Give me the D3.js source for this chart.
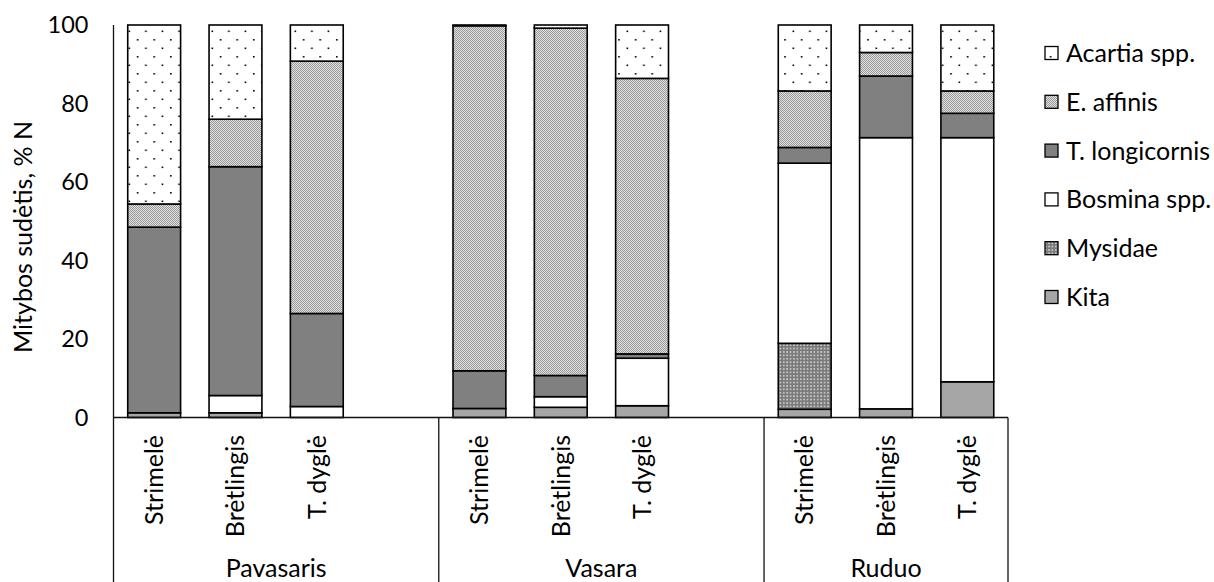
<!DOCTYPE html>
<html>
<head>
<meta charset="utf-8">
<script src="https://cdn.jsdelivr.net/npm/d3@7"></script>
<style>
  body { margin: 0; background: #fff; }
  svg text { font-family: Lato, "Open Sans", sans-serif; fill: #000; }
</style>
</head>
<body>
<svg id="chart" width="1214" height="582"></svg>
<script>
// ---- data ----
const seasons = ["Pavasaris", "Vasara", "Ruduo"];
const fish = ["Strimelė", "Brėtlingis", "T. dyglė"];
// stack order bottom -> top
const seriesNames = ["Kita", "Mysidae", "Bosmina spp.", "T. longicornis", "E. affinis", "Acartia spp."];
// order: Pavasaris (Strimelė, Brėtlingis, T. dyglė), Vasara (...), Ruduo (...)
const kita         = [1.2, 1.2, 0.0, 2.3, 2.6, 3.0, 2.1, 2.2, 9.1];
const mysidae      = [0.0, 0.0, 0.0, 0.0, 0.0, 0.0, 16.8, 0.0, 0.0];
const bosmina      = [0.0, 4.4, 2.8, 0.0, 2.7, 12.1, 45.9, 69.1, 62.2];
const tLongicornis = [47.3, 58.3, 23.7, 9.6, 5.4, 1.1, 4.0, 15.7, 6.2];
const eAffinis     = [5.9, 12.1, 64.3, 87.9, 88.5, 70.2, 14.4, 6.0, 5.7];
const acartia      = [45.6, 24.0, 9.2, 0.2, 0.8, 13.6, 16.8, 7.0, 16.8];
const yTicks = [0, 20, 40, 60, 80, 100];
const legendOrder = ["Acartia spp.", "E. affinis", "T. longicornis", "Bosmina spp.", "Mysidae", "Kita"];

const seriesValues = {
  "Kita": kita, "Mysidae": mysidae, "Bosmina spp.": bosmina,
  "T. longicornis": tLongicornis, "E. affinis": eAffinis, "Acartia spp.": acartia
};

// build rows
const rows = [];
seasons.forEach((s, si) => fish.forEach((f, fi) => {
  const i = si * fish.length + fi;
  const r = { key: s + "|" + f, season: s, fish: f };
  seriesNames.forEach(n => r[n] = seriesValues[n][i]);
  rows.push(r);
}));
// slot domain with spacer after first two seasons
const slots = [];
seasons.forEach((s, si) => {
  fish.forEach(f => slots.push(s + "|" + f));
  if (si < seasons.length - 1) slots.push("gap" + si);
});

// ---- layout ----
const svg = d3.select("#chart");
const x0 = 113.5, x1 = 1008, yTop = 25, yBot = 417.5, bottomEdge = 582;
const FS = "25px";

const x = d3.scaleBand().domain(slots).range([x0, x1]).paddingInner(0.35).paddingOuter(0.175);
const y = d3.scaleLinear().domain([0, 100]).range([yBot, yTop]);

// ---- patterns ----
const defs = svg.append("defs");
const pA = defs.append("pattern").attr("id", "pAcartia").attr("patternUnits", "userSpaceOnUse")
  .attr("width", 16.6).attr("height", 17).attr("x", 2).attr("y", 3);
pA.append("rect").attr("width", 16.6).attr("height", 17).attr("fill", "#fff");
pA.append("rect").attr("x", 2).attr("y", 2).attr("width", 1.6).attr("height", 1.6).attr("fill", "#000");
pA.append("rect").attr("x", 10.3).attr("y", 10.5).attr("width", 1.6).attr("height", 1.6).attr("fill", "#000");

const pE = defs.append("pattern").attr("id", "pEaff").attr("patternUnits", "userSpaceOnUse")
  .attr("width", 2).attr("height", 2);
pE.append("rect").attr("width", 2).attr("height", 2).attr("fill", "#e0e0e0");
pE.append("rect").attr("x", 0).attr("y", 0).attr("width", 1).attr("height", 1).attr("fill", "#9a9a9a");
pE.append("rect").attr("x", 1).attr("y", 1).attr("width", 1).attr("height", 1).attr("fill", "#9a9a9a");

const pM = defs.append("pattern").attr("id", "pMys").attr("patternUnits", "userSpaceOnUse")
  .attr("width", 3.4).attr("height", 3.4);
pM.append("rect").attr("width", 3.4).attr("height", 3.4).attr("fill", "#7a7a7a");
pM.append("rect").attr("x", 1).attr("y", 1).attr("width", 1.6).attr("height", 1.6).attr("fill", "#d4d4d4");

const fills = {
  "Acartia spp.": "url(#pAcartia)",
  "E. affinis": "url(#pEaff)",
  "T. longicornis": "#808080",
  "Bosmina spp.": "#ffffff",
  "Mysidae": "url(#pMys)",
  "Kita": "#a6a6a6"
};

// ---- bars ----
const stacked = d3.stack().keys(seriesNames)(rows);
const gBars = svg.append("g");
stacked.forEach(layer => {
  gBars.append("g")
    .selectAll("rect")
    .data(layer.filter(d => d[1] - d[0] > 0))
    .join("rect")
    .attr("x", d => x(d.data.key))
    .attr("width", x.bandwidth())
    .attr("y", d => y(d[1]))
    .attr("height", d => y(d[0]) - y(d[1]))
    .attr("fill", fills[layer.key])
    .attr("stroke", "#000")
    .attr("stroke-width", 1.6);
});

// ---- axes lines ----
const lineColor = "#111";
svg.append("line").attr("x1", x0).attr("x2", x0).attr("y1", yTop).attr("y2", bottomEdge)
  .attr("stroke", lineColor).attr("stroke-width", 1.3);
svg.append("line").attr("x1", x0).attr("x2", x1).attr("y1", yBot).attr("y2", yBot)
  .attr("stroke", lineColor).attr("stroke-width", 1.3);
const step = x.step();
[4, 8].forEach(k => {
  const xs = x0 + k * step;
  svg.append("line").attr("x1", xs).attr("x2", xs).attr("y1", yBot).attr("y2", bottomEdge)
    .attr("stroke", lineColor).attr("stroke-width", 1.3);
});
svg.append("line").attr("x1", x1).attr("x2", x1).attr("y1", yBot).attr("y2", bottomEdge)
  .attr("stroke", lineColor).attr("stroke-width", 1.3);

// ---- y axis labels ----
const yAxis = d3.axisLeft(y).tickValues(yTicks).tickSize(0).tickPadding(25);
const gy = svg.append("g").attr("transform", `translate(${x0},0)`).call(yAxis);
gy.select(".domain").remove();
gy.selectAll("text").style("font-size", "23.5px").style("font-family", "Lato, sans-serif").attr("fill", "#000");

svg.append("text")
  .attr("transform", "translate(32,237) rotate(-90)")
  .attr("text-anchor", "middle")
  .style("font-size", FS)
  .text("Mitybos sudėtis, % N");

// ---- category labels ----
rows.forEach(r => {
  const cx = x(r.key) + x.bandwidth() / 2;
  svg.append("text")
    .attr("transform", `translate(${cx},435) rotate(-90)`)
    .attr("text-anchor", "end")
    .attr("dy", "0.35em")
    .style("font-size", FS)
    .text(r.fish);
});
seasons.forEach((s, si) => {
  const start = x0 + si * 4 * step;
  const end = si < seasons.length - 1 ? x0 + (si + 1) * 4 * step : x1;
  svg.append("text")
    .attr("x", (start + end) / 2)
    .attr("y", 577)
    .attr("text-anchor", "middle")
    .style("font-size", FS)
    .text(s);
});

// ---- legend ----
const leg = svg.append("g");
legendOrder.forEach((n, i) => {
  const cy = 53 + i * 48.8;
  leg.append("rect").attr("x", 1045).attr("y", cy - 6.5).attr("width", 13).attr("height", 13)
    .attr("fill", fills[n]).attr("stroke", "#000").attr("stroke-width", 1.3);
  leg.append("text").attr("x", 1066).attr("y", cy).attr("dy", "0.36em")
    .style("font-size", FS).text(n);
});
</script>
</body>
</html>
